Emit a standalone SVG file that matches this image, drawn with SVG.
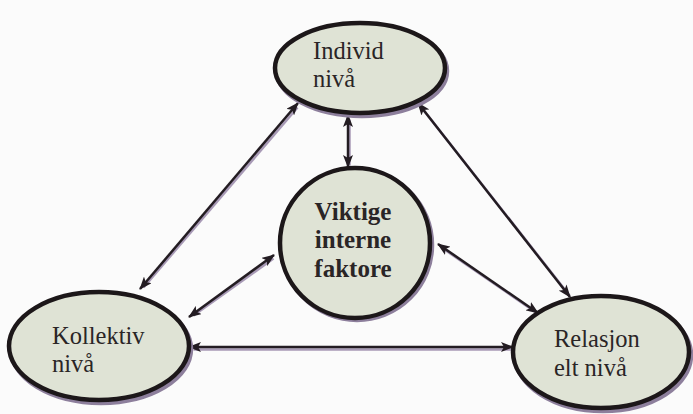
<svg xmlns="http://www.w3.org/2000/svg" width="693" height="414" viewBox="0 0 693 414">
  <defs>
    <marker id="head" viewBox="0 0 13 10" refX="12" refY="5" markerWidth="13" markerHeight="10" markerUnits="userSpaceOnUse" orient="auto-start-reverse">
      <path d="M0,0 L13,5 L0,10 L3,5 Z" fill="#231c22"/>
    </marker>
  </defs>
  <style>
    .node { fill: #dfe3d5; stroke: #1c1719; stroke-width: 4.5; }
    .shadow { fill: none; stroke: #8d7f9c; stroke-width: 4.5; }
    .lbl { font-family: "Liberation Serif", "Times New Roman", serif; font-size: 24.5px; fill: #2a2526; }
    .bold { font-weight: bold; font-size: 25px; text-anchor: middle; }
    .link { stroke: #231c22; stroke-width: 2.5; fill: none; marker-start: url(#head); marker-end: url(#head); }
    .linkshadow { stroke: #a89ab6; stroke-width: 2.5; fill: none; }
  </style>
  <rect width="693" height="414" fill="#fbfbfb"/>

  <!-- connectors -->
  <g id="connectors">
    <g transform="translate(1.5,1.5)">
      <line class="linkshadow" x1="296" y1="106" x2="142" y2="286"/>
      <line class="linkshadow" x1="348" y1="118" x2="348" y2="164"/>
      <line class="linkshadow" x1="420" y1="106" x2="568" y2="294"/>
      <line class="linkshadow" x1="272" y1="257" x2="192" y2="314"/>
      <line class="linkshadow" x1="440" y1="246" x2="536" y2="312"/>
      <line class="linkshadow" x1="192" y1="348" x2="510" y2="348"/>
    </g>
    <line class="link" x1="298" y1="103" x2="140" y2="289"/>
    <line class="link" x1="348" y1="115" x2="348" y2="167"/>
    <line class="link" x1="418" y1="103" x2="570" y2="297"/>
    <line class="link" x1="274" y1="255" x2="189" y2="317"/>
    <line class="link" x1="438" y1="244" x2="538" y2="313"/>
    <line class="link" x1="189" y1="347" x2="513" y2="347"/>
  </g>

  <!-- Individ nivå -->
  <g id="individ">
    <ellipse class="shadow" cx="362" cy="71" rx="85" ry="45"/>
    <ellipse class="node" cx="360" cy="68" rx="85" ry="45"/>
    <text class="lbl" x="313" y="59">Individ</text>
    <text class="lbl" x="313" y="87">nivå</text>
  </g>

  <!-- Viktige interne faktore -->
  <g id="interne">
    <circle class="shadow" cx="357" cy="245" r="75"/>
    <circle class="node" cx="355" cy="243" r="75"/>
    <text class="lbl bold" x="353" y="220">Viktige</text>
    <text class="lbl bold" x="353" y="248">interne</text>
    <text class="lbl bold" x="353" y="277">faktore</text>
  </g>

  <!-- Kollektiv nivå -->
  <g id="kollektiv">
    <ellipse class="shadow" cx="101" cy="349" rx="90" ry="54"/>
    <ellipse class="node" cx="99" cy="346" rx="90" ry="54"/>
    <text class="lbl" x="52" y="344">Kollektiv</text>
    <text class="lbl" x="52" y="372">nivå</text>
  </g>

  <!-- Relasjonelt nivå -->
  <g id="relasjonelt">
    <ellipse class="shadow" cx="603" cy="355" rx="88" ry="56"/>
    <ellipse class="node" cx="601" cy="352" rx="88" ry="56"/>
    <text class="lbl" x="554" y="347">Relasjon</text>
    <text class="lbl" x="554" y="376">elt nivå</text>
  </g>
</svg>
